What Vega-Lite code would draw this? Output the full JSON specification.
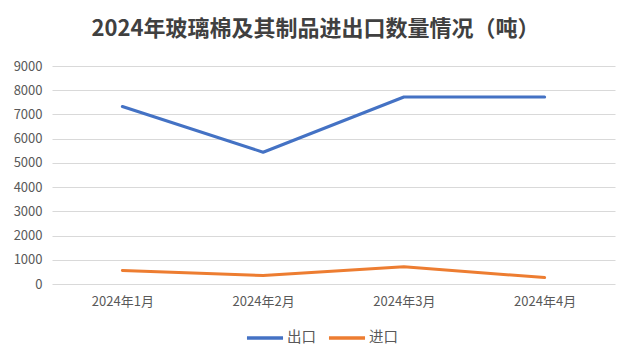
{
  "$schema": "https://vega.github.io/schema/vega-lite/v6.json",
  "autosize": "none",
  "width": 563,
  "height": 218,
  "padding": {"left": 52, "top": 66, "right": 20, "bottom": 78},
  "background": "white",
  "title": {
    "text": "2024年玻璃棉及其制品进出口数量情况（吨）",
    "font": "Noto Sans CJK SC",
    "fontSize": 22,
    "fontWeight": "bold",
    "color": "#404040",
    "anchor": "middle",
    "dx": -18,
    "offset": 19
  },
  "data": {
    "values": [
      {"month": "2024年1月", "type": "出口", "value": 7330},
      {"month": "2024年2月", "type": "出口", "value": 5440},
      {"month": "2024年3月", "type": "出口", "value": 7720},
      {"month": "2024年4月", "type": "出口", "value": 7720},
      {"month": "2024年1月", "type": "进口", "value": 560},
      {"month": "2024年2月", "type": "进口", "value": 350},
      {"month": "2024年3月", "type": "进口", "value": 715},
      {"month": "2024年4月", "type": "进口", "value": 265}
    ]
  },
  "mark": {"type": "line", "strokeWidth": 3, "strokeCap": "round", "strokeJoin": "round"},
  "encoding": {
    "x": {
      "field": "month",
      "type": "nominal",
      "sort": null,
      "scale": {"type": "point", "padding": 0.5},
      "axis": {
        "title": null,
        "labelAngle": 0,
        "domain": false,
        "ticks": false,
        "grid": false,
        "labelFont": "Noto Sans CJK SC",
        "labelFontSize": 13,
        "labelColor": "#595959",
        "labelPadding": 11
      }
    },
    "y": {
      "field": "value",
      "type": "quantitative",
      "scale": {"domain": [0, 9000], "nice": false},
      "axis": {
        "title": null,
        "values": [0, 1000, 2000, 3000, 4000, 5000, 6000, 7000, 8000, 9000],
        "format": "d",
        "domain": false,
        "ticks": false,
        "gridColor": "#d9d9d9",
        "gridWidth": 1,
        "labelFont": "Noto Sans CJK SC",
        "labelFontSize": 13,
        "labelColor": "#595959",
        "labelPadding": 10
      }
    },
    "color": {
      "field": "type",
      "type": "nominal",
      "scale": {"domain": ["出口", "进口"], "range": ["#4472C4", "#ED7D31"]},
      "legend": {
        "title": null,
        "orient": "none",
        "legendX": 193,
        "legendY": 252,
        "direction": "horizontal",
        "symbolType": "stroke",
        "symbolStrokeWidth": 3.5,
        "symbolSize": 1300,
        "labelFont": "Noto Sans CJK SC",
        "labelFontSize": 14.5,
        "labelColor": "#595959",
        "columnPadding": 5,
        "labelOffset": 2
      }
    }
  },
  "config": {
    "view": {"stroke": null}
  }
}
